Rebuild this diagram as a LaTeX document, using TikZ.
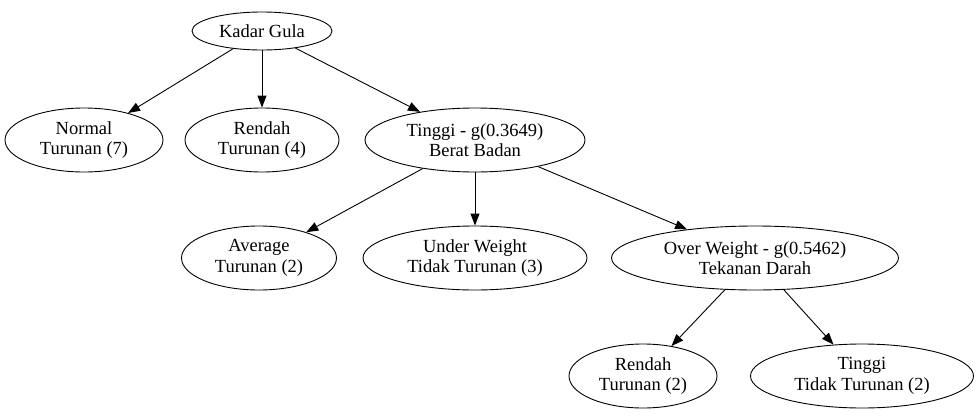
\documentclass[tikz,border=0pt]{standalone}
\usepackage{fontspec}
\setmainfont{Liberation Serif}
\usepackage{tikz}
\usetikzlibrary{shapes.geometric, arrows.meta}
\usepackage{xcolor}
\definecolor{nodeline}{RGB}{0, 0, 0}
\tikzset{
  treenode/.style = {ellipse, draw=nodeline, line width=0.9pt, inner sep=0pt, align=center,
                     font=\fontsize{18.5}{20.5}\selectfont},
  edge/.style     = {-{Triangle[length=12pt, width=9pt]}, line width=0.9pt, nodeline},
}

\begin{document}
\begin{tikzpicture}[x=1pt, y=-1pt]
  % batas gambar
  \useasboundingbox (0,0) rectangle (980,418);

  % akar
  \node[treenode, minimum width=140, minimum height=38] (kadar) at (262,31) {Kadar Gula};

  % tingkat 1
  \node[treenode, minimum width=158, minimum height=64] (normal) at (84,140) {Normal\\Turunan (7)};
  \node[treenode, minimum width=154, minimum height=64] (rendahA) at (262,140) {Rendah\\Turunan (4)};
  \node[treenode, minimum width=220, minimum height=64] (tinggiA) at (475,140) {Tinggi - g(0.3649)\\Berat Badan};

  % tingkat 2
  \node[treenode, minimum width=155, minimum height=64] (average) at (259,258) {Average\\Turunan (2)};
  \node[treenode, minimum width=224, minimum height=64] (under) at (475,258) {Under Weight\\Tidak Turunan (3)};
  \node[treenode, minimum width=287, minimum height=64] (over) at (755,258) {Over Weight - g(0.5462)\\Tekanan Darah};

  % tingkat 3
  \node[treenode, minimum width=148, minimum height=64] (rendahB) at (643,376) {Rendah\\Turunan (2)};
  \node[treenode, minimum width=223, minimum height=64] (tinggiB) at (862,376) {Tinggi\\Tidak Turunan (2)};

  \draw[edge] (kadar) -- (normal);
  \draw[edge] (kadar) -- (rendahA);
  \draw[edge] (kadar) -- (tinggiA);
  \draw[edge] (tinggiA) -- (average);
  \draw[edge] (tinggiA) -- (under);
  \draw[edge] (tinggiA) -- (over);
  \draw[edge] (over) -- (rendahB);
  \draw[edge] (over) -- (tinggiB);
\end{tikzpicture}
\end{document}
